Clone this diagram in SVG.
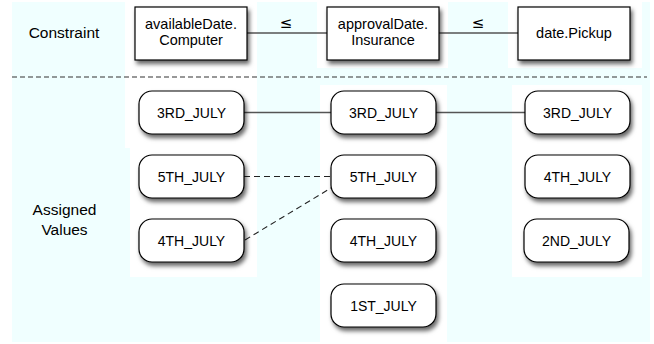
<svg xmlns="http://www.w3.org/2000/svg" width="654" height="344" viewBox="0 0 654 344">
  <defs>
    <filter id="shadow" x="-20%" y="-20%" width="150%" height="160%">
      <feDropShadow dx="2" dy="3.5" stdDeviation="2" flood-color="#000" flood-opacity="0.6"/>
    </filter>
  </defs>
  <style>
    .bg { fill: #f0ffff; }
    .lane { fill: #ffffff; }
    .box { fill: #ffffff; stroke: #000; stroke-width: 1.2; filter: url(#shadow); }
    .val { fill: #ffffff; stroke: #000; stroke-width: 1.2; filter: url(#shadow); }
    .t { font-family: "Liberation Sans", Arial, sans-serif; font-size: 14px; fill: #000; text-anchor: middle; }
    .tb { font-family: "Liberation Sans", Arial, sans-serif; font-size: 14.5px; fill: #000; text-anchor: middle; }
    .lbl { font-family: "Liberation Sans", Arial, sans-serif; font-size: 15.5px; fill: #000; text-anchor: middle; }
    .op { font-family: "DejaVu Sans", sans-serif; font-size: 15px; fill: #000; text-anchor: middle; }
    .solid { stroke: #555; stroke-width: 1.3; fill: none; }
    .dash { stroke: #222; stroke-width: 1.1; fill: none; stroke-dasharray: 6 4; }
    .sep { stroke: #333; stroke-width: 1.1; fill: none; stroke-dasharray: 5 3; }
  </style>

  <!-- background and column lanes -->
  <rect class="bg" x="12" y="2" width="638" height="340"/>
  <rect class="lane" x="125" y="2" width="132" height="146"/>
  <rect class="lane" x="130" y="148" width="127" height="129"/>
  <rect class="lane" x="317" y="2" width="131" height="66"/>
  <rect class="lane" x="320" y="85" width="127" height="257"/>
  <rect class="lane" x="508" y="2" width="134" height="66"/>
  <rect class="lane" x="512" y="85" width="130" height="192"/>

  <!-- row labels -->
  <text class="lbl" x="64" y="38">Constraint</text>
  <text class="lbl" x="64.5" y="215">Assigned</text>
  <text class="lbl" x="64.5" y="235">Values</text>

  <!-- separator -->
  <line class="sep" x1="12" y1="77" x2="647" y2="77"/>

  <!-- connectors -->
  <g id="connectors">
    <line class="solid" x1="247" y1="33" x2="327" y2="33"/>
    <line class="solid" x1="439" y1="33" x2="518" y2="33"/>
    <text class="op" x="286" y="28">≤</text>
    <text class="op" x="478" y="28">≤</text>
    <line class="solid" x1="244" y1="112.5" x2="331" y2="112.5"/>
    <line class="solid" x1="436" y1="112.5" x2="525" y2="112.5"/>
    <line class="dash" x1="244" y1="176.5" x2="331" y2="176.5"/>
    <line class="dash" x1="245" y1="240" x2="331" y2="188"/>
  </g>

  <!-- constraint variables -->
  <g id="availableDate-Computer">
    <rect class="box" x="135" y="7" width="112" height="53"/>
    <text class="tb" x="191" y="28.5">availableDate.</text>
    <text class="tb" x="191" y="44.5">Computer</text>
  </g>
  <g id="approvalDate-Insurance">
    <rect class="box" x="327" y="7" width="112" height="53"/>
    <text class="tb" x="383" y="28.5">approvalDate.</text>
    <text class="tb" x="383" y="44.5">Insurance</text>
  </g>
  <g id="date-Pickup">
    <rect class="box" x="518" y="7" width="112" height="53"/>
    <text class="tb" x="574" y="37.5">date.Pickup</text>
  </g>

  <!-- values of availableDate.Computer -->
  <g id="computer-3rd">
    <rect class="val" x="139" y="91" width="105" height="43" rx="13"/>
    <text class="t" x="191.5" y="118">3RD_JULY</text>
  </g>
  <g id="computer-5th">
    <rect class="val" x="139" y="155" width="105" height="43" rx="13"/>
    <text class="t" x="191.5" y="182">5TH_JULY</text>
  </g>
  <g id="computer-4th">
    <rect class="val" x="139" y="219" width="105" height="43" rx="13"/>
    <text class="t" x="191.5" y="246">4TH_JULY</text>
  </g>

  <!-- values of approvalDate.Insurance -->
  <g id="insurance-3rd">
    <rect class="val" x="331" y="91" width="105" height="43" rx="13"/>
    <text class="t" x="383.5" y="118">3RD_JULY</text>
  </g>
  <g id="insurance-5th">
    <rect class="val" x="331" y="155" width="105" height="43" rx="13"/>
    <text class="t" x="383.5" y="182">5TH_JULY</text>
  </g>
  <g id="insurance-4th">
    <rect class="val" x="331" y="219" width="105" height="43" rx="13"/>
    <text class="t" x="383.5" y="246">4TH_JULY</text>
  </g>
  <g id="insurance-1st">
    <rect class="val" x="331" y="284" width="105" height="43" rx="13"/>
    <text class="t" x="383.5" y="311">1ST_JULY</text>
  </g>

  <!-- values of date.Pickup -->
  <g id="pickup-3rd">
    <rect class="val" x="525" y="91" width="105" height="43" rx="13"/>
    <text class="t" x="577.5" y="118">3RD_JULY</text>
  </g>
  <g id="pickup-4th">
    <rect class="val" x="525" y="155" width="105" height="43" rx="13"/>
    <text class="t" x="577.5" y="182">4TH_JULY</text>
  </g>
  <g id="pickup-2nd">
    <rect class="val" x="524" y="219" width="105" height="43" rx="13"/>
    <text class="t" x="576.5" y="246">2ND_JULY</text>
  </g>
</svg>
